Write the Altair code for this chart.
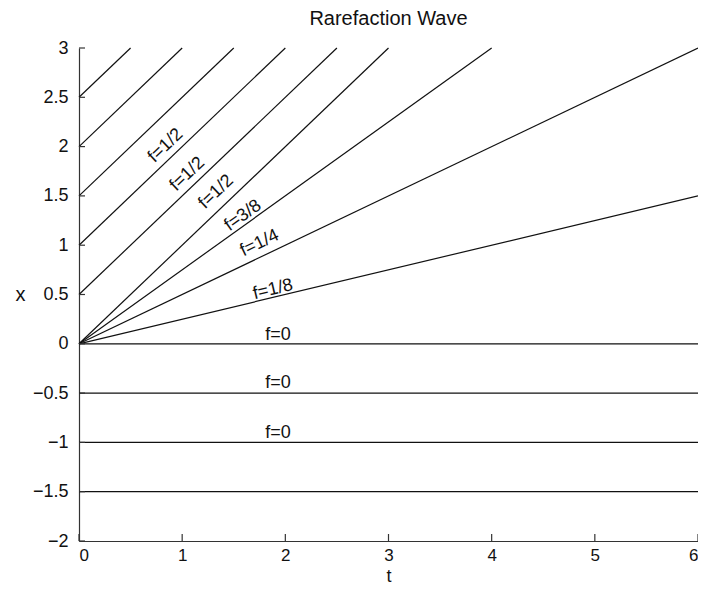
import math
import altair as alt
import pandas as pd

# ---- data ----
line_t_start = [0, 0, 0, 0, 0, 0, 0, 0, 0, 0, 0, 0, 0]
line_x_start = [2.5, 2.0, 1.5, 1.0, 0.5, 0, 0, 0, 0, 0, -0.5, -1.0, -1.5]
line_t_end = [0.5, 1.0, 1.5, 2.0, 2.5, 3.0, 4.0, 6.0, 6.0, 6.0, 6.0, 6.0, 6.0]
line_x_end = [3, 3, 3, 3, 3, 3, 3, 3, 1.5, 0, -0.5, -1.0, -1.5]

label_text = ["f=1/2", "f=1/2", "f=1/2", "f=3/8", "f=1/4", "f=1/8", "f=0", "f=0", "f=0"]
label_t = [0.84, 1.05, 1.33, 1.59, 1.75, 1.88, 1.93, 1.93, 1.93]
label_x = [2.01, 1.72, 1.54, 1.30, 1.02, 0.55, 0.09, -0.40, -0.90]
label_line = [3, 4, 5, 6, 7, 8, 9, 10, 11]

x_ticks = [0, 1, 2, 3, 4, 5, 6]
y_ticks = [-2, -1.5, -1, -0.5, 0, 0.5, 1, 1.5, 2, 2.5, 3]

W, H = 619, 493
T_DOM = [0, 6]
X_DOM = [-2, 3]

rows = []
for i in range(len(line_t_start)):
    rows.append({"id": i, "t": line_t_start[i], "x": line_x_start[i]})
    rows.append({"id": i, "t": line_t_end[i], "x": line_x_end[i]})
lines_df = pd.DataFrame(rows)

px_per_t = W / (T_DOM[1] - T_DOM[0])
px_per_x = H / (X_DOM[1] - X_DOM[0])
angles = []
for li in label_line:
    slope = (line_x_end[li] - line_x_start[li]) / (line_t_end[li] - line_t_start[li])
    a = math.degrees(math.atan(slope * px_per_x / px_per_t))
    angles.append((360 - a) % 360)
labels_df = pd.DataFrame({"t": label_t, "x": label_x, "text": label_text, "angle": angles})

xt_df = pd.DataFrame({"t": x_ticks})
yt_df = pd.DataFrame({"x": y_ticks})

FONT = "Liberation Sans"

xscale = alt.Scale(domain=T_DOM, nice=False, zero=False)
yscale = alt.Scale(domain=X_DOM, nice=False, zero=False)

lines = alt.Chart(lines_df).mark_line(color="#111", strokeWidth=1.2).encode(
    x=alt.X("t:Q", scale=xscale,
            axis=alt.Axis(values=x_ticks, title="t", format="~g", labelPadding=6,
                          labelFontSize=17,
                          titleY=40, titleBaseline="alphabetic", titleFontSize=18)),
    y=alt.Y("x:Q", scale=yscale,
            axis=alt.Axis(values=y_ticks, title="x", format="~g", labelPadding=11,
                          titleAngle=0, titleX=-59, titleY=H / 2,
                          titleAlign="center", titleBaseline="middle")),
    detail="id:N",
)

texts = alt.Chart(labels_df).mark_text(
    font=FONT, fontSize=18, color="#111", align="center", baseline="middle"
).encode(
    x=alt.X("t:Q", scale=xscale),
    y=alt.Y("x:Q", scale=yscale),
    text="text:N",
    angle=alt.Angle("angle:Q", scale=None),
)

xticks = alt.Chart(xt_df).mark_rule(color="#333", strokeWidth=1.2).encode(
    x=alt.X("t:Q", scale=xscale),
    y=alt.value(H),
    y2=alt.value(H - 7),
)
yticks = alt.Chart(yt_df).mark_rule(color="#333", strokeWidth=1.2).encode(
    y=alt.Y("x:Q", scale=yscale),
    x=alt.value(0),
    x2=alt.value(6),
)

chart = alt.layer(lines, texts, xticks, yticks).properties(
    width=W,
    height=H,
    title=alt.TitleParams("Rarefaction Wave", font=FONT, fontSize=20, fontWeight="normal",
                          color="#111", anchor="middle", offset=10),
    autosize=alt.AutoSizeParams(type="none"),
    padding={"left": 71, "top": 40, "right": 0, "bottom": 44},
).configure_view(stroke=None).configure_axis(
    grid=False, ticks=False, tickSize=0, domainColor="#333", domainWidth=1.2,
    labelFont=FONT, labelFontSize=18, labelColor="#111",
    titleFont=FONT, titleFontSize=20, titleFontWeight="normal", titleColor="#111",
)

chart.save("out.html", embed_options={"renderer": "svg", "actions": False})
